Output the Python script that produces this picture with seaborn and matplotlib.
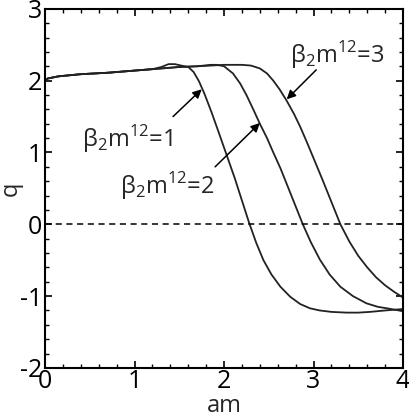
import pandas as pd
import matplotlib
matplotlib.use('Agg')
import matplotlib.pyplot as plt
from matplotlib.ticker import MultipleLocator
import seaborn as sns

# curve values (am, q)
am_b1 = [0.0, 0.03, 0.15, 0.4, 0.7, 1.0, 1.2, 1.3, 1.38, 1.45, 1.52, 1.6, 1.66, 1.72, 1.78,
         1.86, 1.94, 2.03, 2.12, 2.2, 2.28, 2.36, 2.44, 2.53, 2.63, 2.74, 2.85, 2.96, 3.07,
         3.2, 3.37, 3.5, 3.63, 3.8, 4.0]
q_b1 = [2.0, 2.03, 2.06, 2.09, 2.11, 2.14, 2.16, 2.19, 2.23, 2.23, 2.21, 2.19, 2.12, 1.99, 1.82,
        1.56, 1.28, 0.96, 0.64, 0.33, 0.02, -0.26, -0.50, -0.70, -0.87, -1.01, -1.11, -1.17, -1.20,
        -1.22, -1.23, -1.23, -1.22, -1.20, -1.18]

am_b2 = [0.0, 0.03, 0.15, 0.4, 0.7, 1.0, 1.2, 1.3, 1.5, 1.7, 1.85, 1.92, 2.0, 2.1, 2.18, 2.25,
         2.33, 2.4, 2.48, 2.55, 2.63, 2.72, 2.8, 2.88, 2.97, 3.07, 3.18, 3.3, 3.44, 3.59, 3.72,
         3.82, 4.0]
q_b2 = [2.0, 2.03, 2.06, 2.09, 2.11, 2.14, 2.16, 2.17, 2.19, 2.20, 2.22, 2.22, 2.20, 2.10, 1.96, 1.80,
        1.59, 1.40, 1.20, 1.00, 0.78, 0.50, 0.25, 0.0, -0.25, -0.49, -0.70, -0.87, -1.00, -1.10, -1.15,
        -1.17, -1.21]

am_b3 = [0.0, 0.03, 0.15, 0.4, 0.7, 1.0, 1.2, 1.3, 1.5, 1.7, 1.85, 2.0, 2.2, 2.3, 2.4, 2.48,
         2.55, 2.62, 2.7, 2.78, 2.85, 2.93, 3.0, 3.1, 3.2, 3.3, 3.4, 3.5, 3.6, 3.7, 3.8, 3.9, 4.0]
q_b3 = [2.0, 2.03, 2.06, 2.09, 2.11, 2.14, 2.16, 2.17, 2.19, 2.20, 2.21, 2.22, 2.22, 2.21, 2.17, 2.10,
        2.00, 1.88, 1.72, 1.54, 1.36, 1.13, 0.92, 0.62, 0.31, 0.0, -0.24, -0.44, -0.60, -0.74, -0.85,
        -0.94, -1.02]

labels = ['β$_\\mathrm{2}$m$^\\mathrm{12}$=1', 'β$_\\mathrm{2}$m$^\\mathrm{12}$=2',
          'β$_\\mathrm{2}$m$^\\mathrm{12}$=3']
label_xy = [(0.92, 1.19), (1.36, 0.53), (3.27, 2.36)]
arrow_tail = [(1.43, 1.50), (1.90, 0.80), (3.03, 2.15)]
arrow_head = [(1.75, 1.88), (2.40, 1.41), (2.70, 1.74)]

df = pd.concat([
    pd.DataFrame({'am': am_b1, 'q': q_b1, 'beta': 1}),
    pd.DataFrame({'am': am_b2, 'q': q_b2, 'beta': 2}),
    pd.DataFrame({'am': am_b3, 'q': q_b3, 'beta': 3}),
])

sns.set_style('ticks')
plt.rcParams['font.family'] = ['Open Sans', 'DejaVu Sans']
plt.rcParams['mathtext.fontset'] = 'custom'
plt.rcParams['mathtext.rm'] = 'Open Sans'
plt.rcParams['axes.unicode_minus'] = False

fig = plt.figure(figsize=(4.1, 4.2), dpi=100)
ax = fig.add_axes([0.110, 0.124, 0.873, 0.855])

sns.lineplot(data=df, x='am', y='q', hue='beta', palette=['#222222'] * 3,
             estimator=None, legend=False, lw=1.3, ax=ax)
ax.axhline(0, color='black', lw=1.1, dashes=(4, 3))

for lab, (tx, ty), tail, head in zip(labels, label_xy, arrow_tail, arrow_head):
    ax.text(tx, ty, lab, ha='center', va='center', fontsize=17)
    ax.annotate('', xy=head, xytext=tail,
                arrowprops=dict(arrowstyle='-|>', color='black', lw=1.1,
                                mutation_scale=13, shrinkA=0, shrinkB=0))

ax.set_xlim(0, 4)
ax.set_ylim(-2, 3)
ax.xaxis.set_major_locator(MultipleLocator(1))
ax.xaxis.set_minor_locator(MultipleLocator(0.2))
ax.yaxis.set_major_locator(MultipleLocator(1))
ax.yaxis.set_minor_locator(MultipleLocator(0.2))
ax.tick_params(which='both', direction='in', top=True, right=True, colors='black')
ax.tick_params(which='major', length=5, width=1.2, labelsize=18)
ax.tick_params(axis='x', which='major', pad=1)
ax.tick_params(axis='y', which='major', pad=2)
ax.tick_params(which='minor', length=3, width=1.0)
for s in ax.spines.values():
    s.set_linewidth(1.5)
    s.set_color('black')

ax.set_xlabel('am', fontsize=17)
ax.xaxis.set_label_coords(0.5, -0.072)
ax.set_ylabel('q', fontsize=17)
ax.yaxis.set_label_coords(-0.062, 0.5)

fig.savefig('out.png', dpi=100)
